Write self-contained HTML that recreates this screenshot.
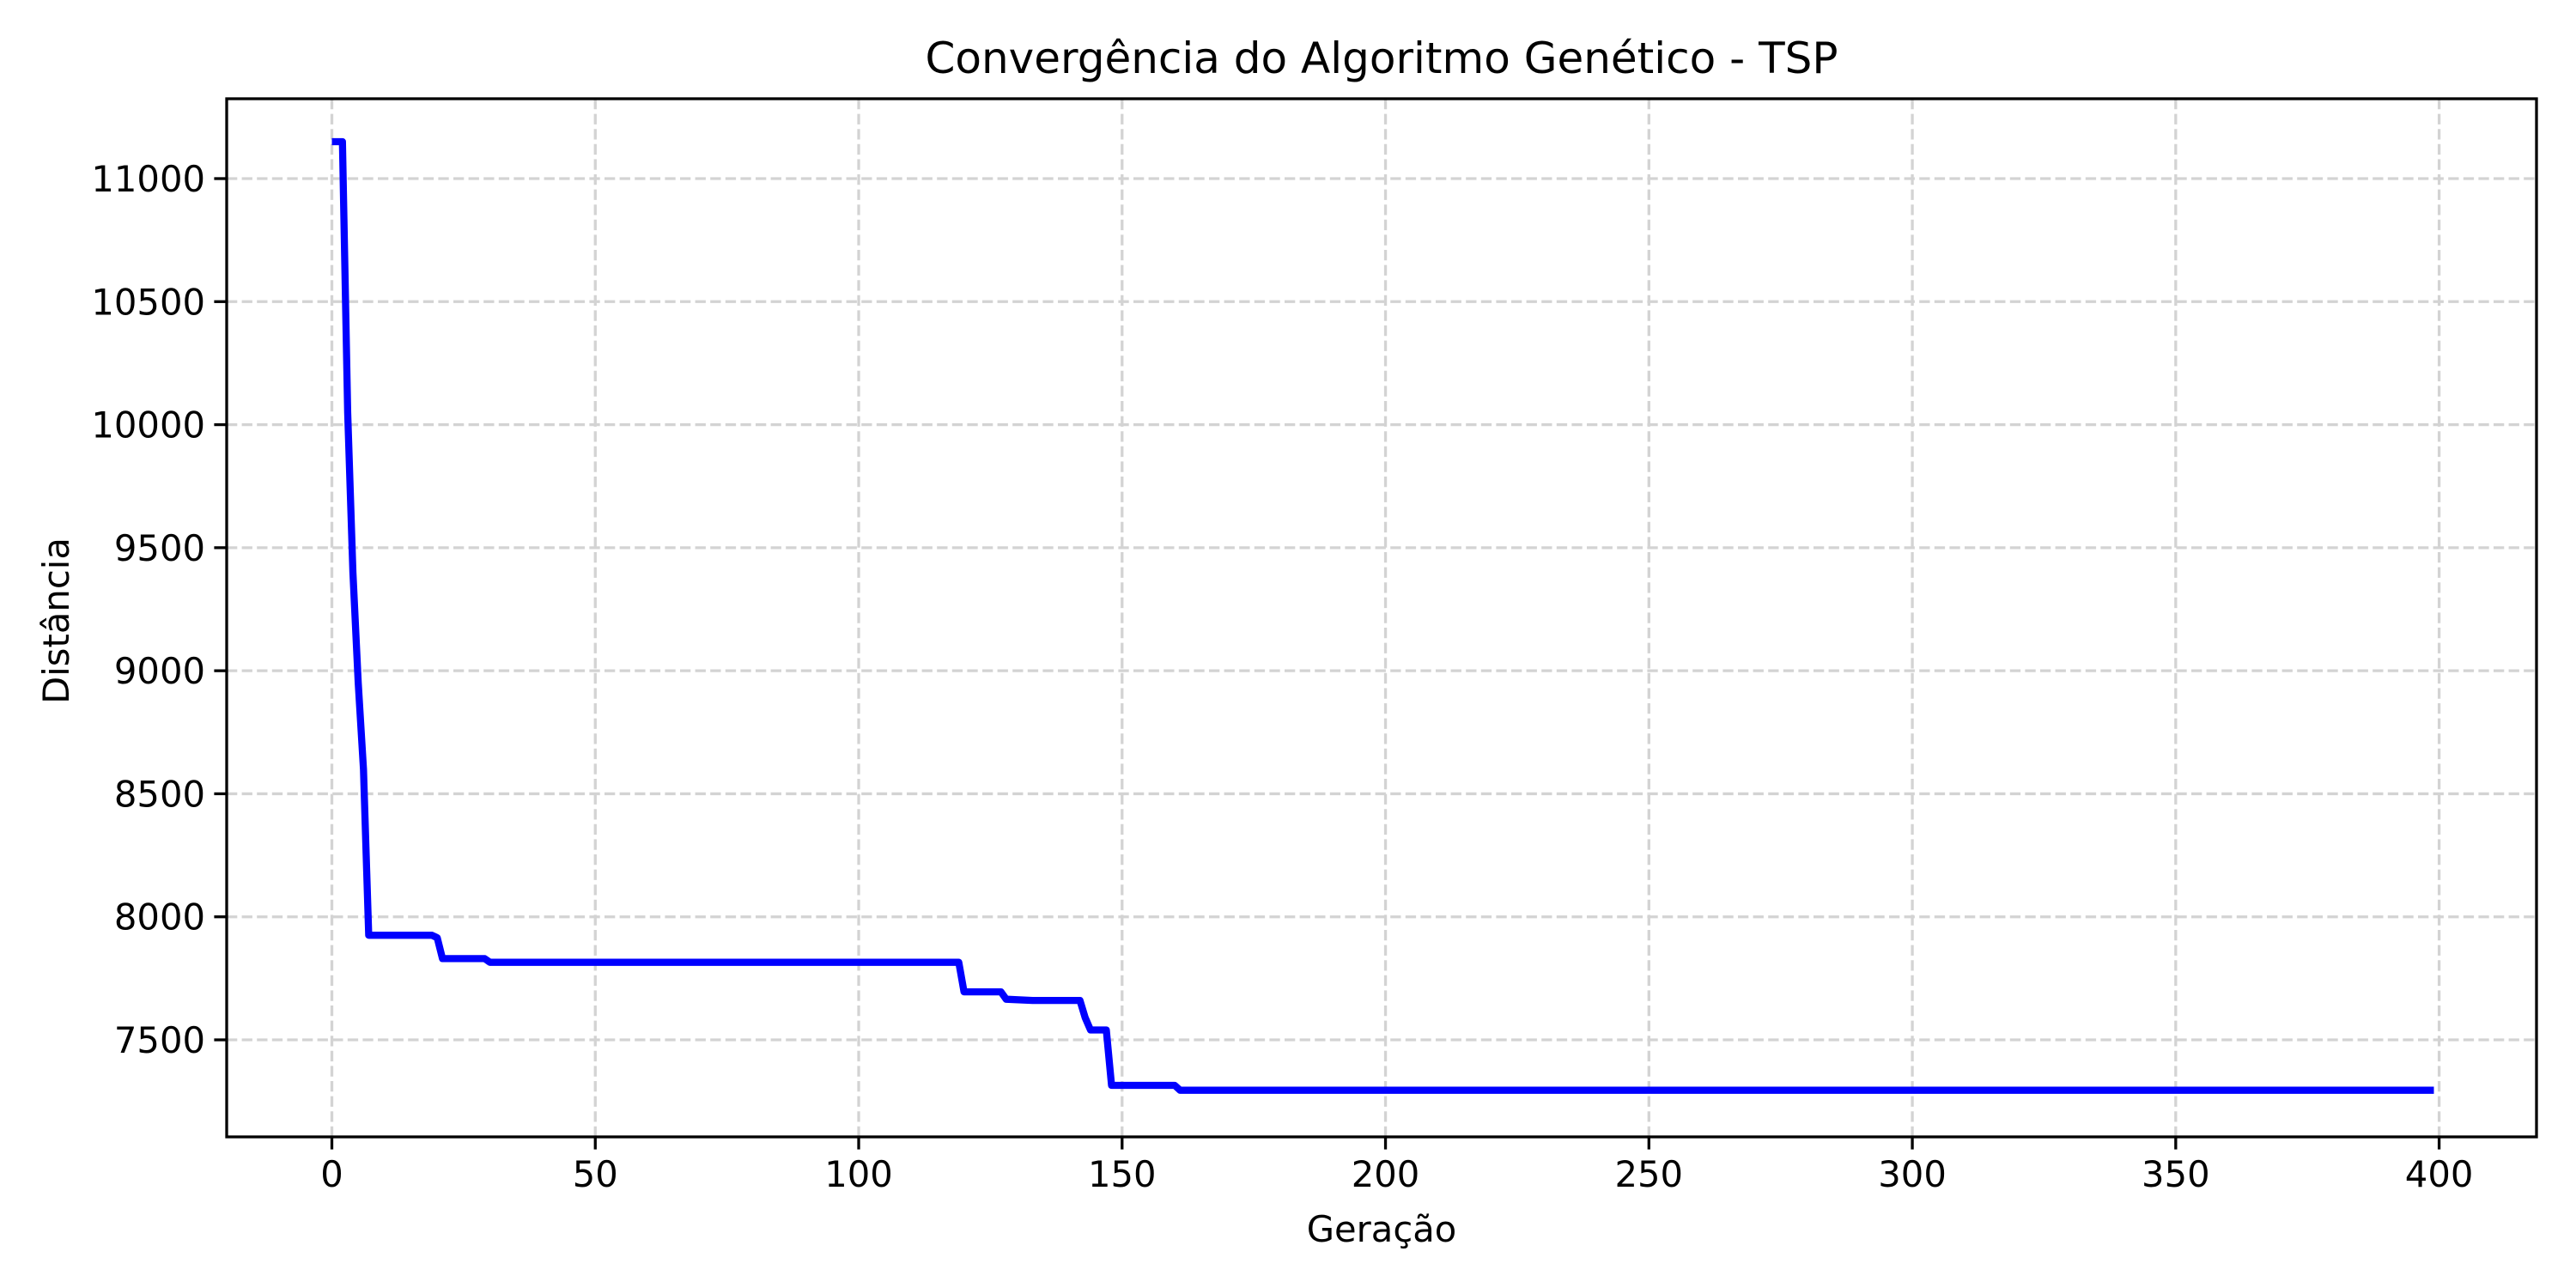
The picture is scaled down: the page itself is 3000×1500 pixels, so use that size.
<!DOCTYPE html>
<html><head><meta charset="utf-8">
<style>html,body{margin:0;padding:0;background:#fff;}svg{display:block;}</style>
</head><body>
<svg id="chart" width="3000" height="1500" viewBox="0 0 3000 1500" xmlns="http://www.w3.org/2000/svg" font-family="'DejaVu Sans', 'Liberation Sans', sans-serif">
<rect x="0" y="0" width="3000" height="1500" fill="#fff"/>
<g id="grid"></g>
<g id="series"></g>
<g id="axes"></g>
<text x="1609" y="85" font-size="50" text-anchor="middle">Convergência do Algoritmo Genético - TSP</text>
<text x="1609" y="1446" font-size="41.7" text-anchor="middle">Geração</text>
<text x="0" y="0" font-size="41.7" text-anchor="middle" transform="translate(80,723) rotate(-90)">Distância</text>
</svg>
<script>
const xTicks = [0, 50, 100, 150, 200, 250, 300, 350, 400];
const yTicks = [7500, 8000, 8500, 9000, 9500, 10000, 10500, 11000];
const genKeys = [0, 2, 3, 4, 5, 6, 7, 19, 20, 21, 29, 30, 119, 120, 127, 128, 133, 142, 143, 144, 147, 148, 160, 161, 399];
const distValues = [11150, 11150, 10050, 9400, 8950, 8600, 7925, 7925, 7915, 7830, 7830, 7815, 7815, 7695, 7695, 7665, 7660, 7660, 7590, 7540, 7540, 7315, 7315, 7295, 7295];

const NS = 'http://www.w3.org/2000/svg';
const L = 264, R = 2954, T = 115, B = 1324;
function xs(v){ return 386.5 + (v - 0) * (2840.6 - 386.5) / 400; }
function ys(v){ return 1211 + (v - 7500) * (208 - 1211) / 3500; }
function mk(tag, attrs, parent){ const e = document.createElementNS(NS, tag); for (const k in attrs) e.setAttribute(k, attrs[k]); parent.appendChild(e); return e; }

const grid = document.getElementById('grid');
const axes = document.getElementById('axes');
const series = document.getElementById('series');

xTicks.forEach(t => {
  const x = xs(t);
  const g = mk('line', {x1:x, x2:x, y1:T, y2:B, stroke:'#d3d3d3', 'stroke-width':3.3, 'stroke-dasharray':'12.3 5.3'}, grid);
  
  
  const tk = mk('line', {x1:x, x2:x, y1:B, y2:B+14.6, stroke:'#000', 'stroke-width':3.3}, axes);
  
  
  const lb = mk('text', {x:x, y:B+58, 'font-size':41.7, 'text-anchor':'middle'}, axes);
  lb.textContent = t;
  
  
});
yTicks.forEach(t => {
  const y = ys(t);
  const g = mk('line', {x1:L, x2:R, y1:y, y2:y, stroke:'#d3d3d3', 'stroke-width':3.3, 'stroke-dasharray':'12.3 5.3'}, grid);
  
  
  const tk = mk('line', {x1:L-14.6, x2:L, y1:y, y2:y, stroke:'#000', 'stroke-width':3.3}, axes);
  
  
  const lb = mk('text', {x:L-25, y:y+15, 'font-size':41.7, 'text-anchor':'end'}, axes);
  lb.textContent = t;
  
  
});
const frame = mk('rect', {x:L, y:T, width:R-L, height:B-T, fill:'none', stroke:'#000', 'stroke-width':3.3}, axes);



const pts = genKeys.map((g, i) => xs(g).toFixed(1) + ',' + ys(distValues[i]).toFixed(1)).join(' ');
const line = mk('polyline', {points:pts, fill:'none', stroke:'#0000ff', 'stroke-width':8.3, 'stroke-linejoin':'round', 'stroke-linecap':'butt'}, series);


</script>
</body></html>
